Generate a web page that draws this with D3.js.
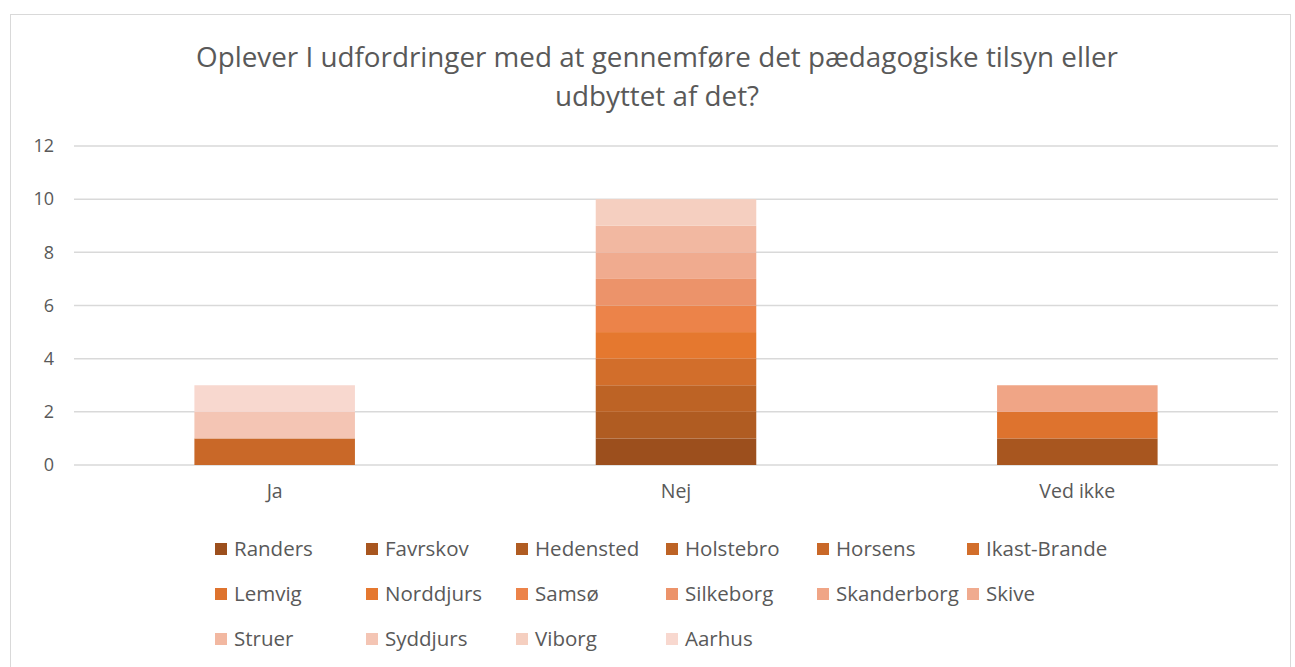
<!DOCTYPE html>
<html>
  <head>
    <meta charset="utf-8">
    <script src="https://d3js.org/d3.v7.min.js"></script>
    <style>
      body { margin: 0; background: #fff; }
      text { font-family: "Open Sans", "Liberation Sans", sans-serif; fill: #595959; }
      .grid line { stroke: #d9d9d9; stroke-width: 1.5; }
    </style>
  </head>
  <body>
    <svg width="1295" height="667"></svg>
    <script>
      // data
      var categories = ["Ja", "Nej", "Ved ikke"];
      var kommuner = ["Randers", "Favrskov", "Hedensted", "Holstebro", "Horsens", "Ikast-Brande",
        "Lemvig", "Norddjurs", "Samsø", "Silkeborg", "Skanderborg", "Skive",
        "Struer", "Syddjurs", "Viborg", "Aarhus"];
      // values per kommune for [Ja, Nej, Ved ikke]
      var values = [
        [0, 1, 0], [0, 0, 1], [0, 1, 0], [0, 1, 0], [1, 0, 0], [0, 1, 0],
        [0, 0, 1], [0, 1, 0], [0, 1, 0], [0, 1, 0], [0, 0, 1], [0, 1, 0],
        [0, 1, 0], [1, 0, 0], [0, 1, 0], [1, 0, 0]
      ];
      var colors = ["#9c4f1d", "#a8561f", "#b05c22", "#bd6325", "#c96828", "#d26e2b",
        "#de732e", "#e5782f", "#ec8349", "#ec936a", "#f0a586", "#f0ab8f",
        "#f2b8a1", "#f4c5b4", "#f5cfc0", "#f8d8cf"];
      var yTicks = [0, 2, 4, 6, 8, 10, 12];
      var title = ["Oplever I udfordringer med at gennemføre det pædagogiske tilsyn eller", "udbyttet af det?"];

      var svg = d3.select("svg");

      // ramme
      svg.append("rect")
        .attr("x", 10.5).attr("y", 14.5)
        .attr("width", 1280).attr("height", 670)
        .attr("fill", "none").attr("stroke", "#d9d9d9");

      // titel
      svg.append("text")
        .attr("text-anchor", "middle")
        .style("font-size", "27.8px")
        .selectAll("tspan").data(title).join("tspan")
        .attr("x", 657)
        .attr("y", function(d, i) { return i ? 106 : 67; })
        .text(function(d) { return d; });

      var plotLeft = 74, plotRight = 1278, plotTop = 146, plotBottom = 465;

      var x = d3.scaleBand().domain(categories).range([plotLeft, plotRight])
        .paddingInner(0.6).paddingOuter(0.3);
      var y = d3.scaleLinear().domain([0, 12]).range([plotBottom, plotTop]);

      // gitterlinjer
      svg.append("g").attr("class", "grid")
        .selectAll("line").data(yTicks).join("line")
        .attr("x1", plotLeft).attr("x2", plotRight)
        .attr("y1", function(d) { return y(d); })
        .attr("y2", function(d) { return y(d); });

      // y-akse
      var yAxis = svg.append("g")
        .attr("transform", "translate(" + (plotLeft - 20) + ",0)")
        .call(d3.axisLeft(y).tickValues(yTicks).tickSize(0).tickPadding(0));
      yAxis.select(".domain").remove();
      yAxis.selectAll("text").style("font-size", "18px").attr("fill", "#595959");

      // x-akse
      var xAxis = svg.append("g")
        .attr("transform", "translate(0," + plotBottom + ")")
        .call(d3.axisBottom(x).tickSize(0).tickPadding(19));
      xAxis.select(".domain").remove();
      xAxis.selectAll("text").style("font-size", "19.5px").attr("fill", "#595959");

      // stablede søjler
      var table = categories.map(function(c, j) {
        var row = { cat: c };
        kommuner.forEach(function(k, i) { row[k] = values[i][j]; });
        return row;
      });
      var series = d3.stack().keys(kommuner)(table);

      svg.append("g").selectAll("g").data(series).join("g")
        .attr("fill", function(d, i) { return colors[i]; })
        .selectAll("rect").data(function(d) { return d; }).join("rect")
        .attr("x", function(d) { return x(d.data.cat); })
        .attr("width", x.bandwidth())
        .attr("y", function(d) { return y(d[1]); })
        .attr("height", function(d) { return y(d[0]) - y(d[1]); });

      // forklaring
      var colX = [215, 366, 516, 666, 817, 967];
      var rowY = [549, 594, 639];
      var legend = svg.append("g").selectAll("g").data(kommuner).join("g")
        .attr("transform", function(d, i) {
          return "translate(" + colX[i % 6] + "," + rowY[Math.floor(i / 6)] + ")";
        });
      legend.append("rect")
        .attr("x", 0).attr("y", -6).attr("width", 12).attr("height", 12)
        .attr("fill", function(d, i) { return colors[i]; });
      legend.append("text")
        .attr("x", 19).attr("dy", "0.35em")
        .style("font-size", "20.5px")
        .text(function(d) { return d; });
    </script>
  </body>
</html>
